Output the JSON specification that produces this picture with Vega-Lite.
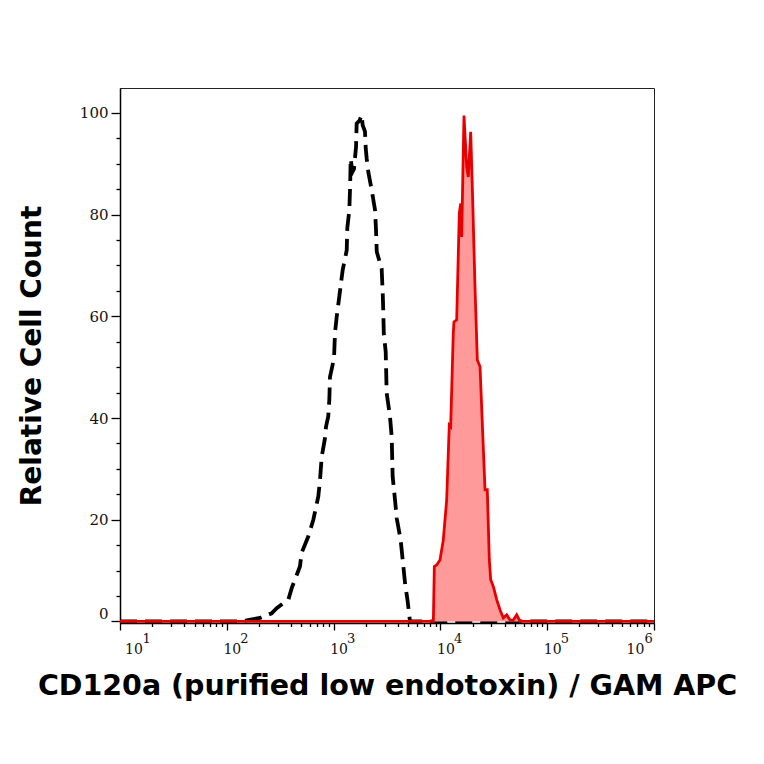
{
  "$schema": "https://vega.github.io/schema/vega-lite/v6.json",
  "width": 534,
  "height": 535,
  "autosize": "none",
  "padding": {"left": 120, "top": 88, "right": 110, "bottom": 141},
  "background": "white",
  "config": {
    "view": {"stroke": "#222222", "strokeWidth": 1},
    "axis": {
      "grid": false,
      "domainColor": "#000000",
      "domainWidth": 1.5,
      "tickColor": "#000000",
      "tickWidth": 1.3,
      "labelFont": "DejaVu Serif",
      "labelFontSize": 14,
      "labelColor": "#111111",
      "labelOverlap": false,
      "labelFlush": false,
      "titleFont": "DejaVu Sans",
      "titleFontWeight": "bold",
      "titleFontSize": 28,
      "titleColor": "#000000"
    }
  },
  "resolve": {"scale": {"x": "independent"}, "axis": {"x": "independent"}},
  "datasets": {
    "iso": [
      {"x": 10, "y": 0}, {"x": 133, "y": 0}, {"x": 153, "y": 0.2}, {"x": 205, "y": 0.7},
      {"x": 263, "y": 1.6}, {"x": 293, "y": 2.6}, {"x": 377, "y": 4.3}, {"x": 406, "y": 6.6},
      {"x": 484, "y": 10.8}, {"x": 502, "y": 13.5}, {"x": 579, "y": 16.7}, {"x": 646, "y": 20},
      {"x": 719, "y": 24.6}, {"x": 746, "y": 27.8}, {"x": 774, "y": 32.4}, {"x": 830, "y": 36},
      {"x": 849, "y": 38.3}, {"x": 891, "y": 40.3}, {"x": 912, "y": 43.6}, {"x": 925, "y": 48.1},
      {"x": 1009, "y": 51.7}, {"x": 1030, "y": 56.7}, {"x": 1069, "y": 59.9}, {"x": 1148, "y": 65},
      {"x": 1216, "y": 69.1}, {"x": 1327, "y": 73}, {"x": 1343, "y": 77.3}, {"x": 1403, "y": 80.9},
      {"x": 1430, "y": 86}, {"x": 1445, "y": 91}, {"x": 1500, "y": 88.4}, {"x": 1552, "y": 89},
      {"x": 1622, "y": 93.3}, {"x": 1644, "y": 97.9}, {"x": 1750, "y": 98.5}, {"x": 1832, "y": 99.6},
      {"x": 1871, "y": 97.6}, {"x": 1968, "y": 96.3}, {"x": 2000, "y": 93}, {"x": 2042, "y": 91},
      {"x": 2113, "y": 88.4}, {"x": 2275, "y": 84.8}, {"x": 2443, "y": 80.9}, {"x": 2495, "y": 77},
      {"x": 2535, "y": 72.7}, {"x": 2818, "y": 69.4}, {"x": 2884, "y": 64.5}, {"x": 2917, "y": 61.2},
      {"x": 2950, "y": 56.7}, {"x": 3076, "y": 53}, {"x": 3141, "y": 44.9}, {"x": 3373, "y": 40.3},
      {"x": 3499, "y": 36.3}, {"x": 3573, "y": 28.5}, {"x": 3758, "y": 23.9}, {"x": 3899, "y": 20.3},
      {"x": 4246, "y": 16}, {"x": 4436, "y": 12.1}, {"x": 4667, "y": 7.5}, {"x": 4943, "y": 3.9},
      {"x": 5188, "y": 0}, {"x": 1000000, "y": 0}
    ],
    "cd120a": [
      {"x": 10, "y": 0}, {"x": 8590, "y": 0}, {"x": 8775, "y": 10.8}, {"x": 9230, "y": 11.1},
      {"x": 9910, "y": 12.1}, {"x": 10640, "y": 16}, {"x": 11450, "y": 23.9}, {"x": 12110, "y": 38.6},
      {"x": 12480, "y": 38.3}, {"x": 13200, "y": 56.7}, {"x": 13400, "y": 58.9}, {"x": 14210, "y": 59.3},
      {"x": 15030, "y": 80.2}, {"x": 15490, "y": 82.2}, {"x": 15820, "y": 75.6}, {"x": 16630, "y": 99.5},
      {"x": 17620, "y": 89.4}, {"x": 18240, "y": 87.4}, {"x": 19210, "y": 96.3}, {"x": 20060, "y": 82.8},
      {"x": 21080, "y": 65.8}, {"x": 22170, "y": 51.4}, {"x": 23500, "y": 50.1}, {"x": 24900, "y": 37},
      {"x": 26170, "y": 25.9}, {"x": 27490, "y": 25.9}, {"x": 28710, "y": 12.1}, {"x": 29580, "y": 8.2},
      {"x": 31280, "y": 6.9}, {"x": 33650, "y": 4.3}, {"x": 36130, "y": 2.3}, {"x": 38810, "y": 0.7},
      {"x": 41780, "y": 1.3}, {"x": 44870, "y": 0.3}, {"x": 47860, "y": 0.2}, {"x": 51800, "y": 1.3},
      {"x": 55620, "y": 0}, {"x": 1000000, "y": 0}
    ]
  },
  "encoding": {
    "y": {
      "field": "y",
      "type": "quantitative",
      "scale": {"domain": [-0.3, 104.9], "nice": false, "zero": false},
      "axis": {
        "title": "Relative Cell Count",
        "titlePadding": 33,
        "labelFontSize": 15,
        "values": [0, 5, 10, 15, 20, 25, 30, 35, 40, 45, 50, 55, 60, 65, 70, 75, 80, 85, 90, 95, 100],
        "labelExpr": "datum.value % 20 === 0 ? datum.label : ''",
        "labelFlush": 3,
        "labelPadding": 3,
        "tickSize": {"condition": {"test": "datum.value % 20 === 0", "value": 9}, "value": 4}
      }
    }
  },
  "layer": [
    {
      "data": {"name": "iso"},
      "mark": {"type": "line", "color": "#000000", "strokeWidth": 3.8, "strokeDash": [17, 8]},
      "encoding": {
        "x": {
          "field": "x",
          "type": "quantitative",
          "scale": {"type": "log", "domain": [10, 1000000], "nice": false},
          "axis": {
            "orient": "bottom",
            "title": "CD120a (purified low endotoxin) / GAM APC",
            "titleFontSize": 28.5,
            "titlePadding": 15,
            "values": [10, 20, 30, 40, 50, 60, 70, 80, 90, 100, 200, 300, 400, 500, 600, 700, 800, 900, 1000, 2000, 3000, 4000, 5000, 6000, 7000, 8000, 9000, 10000, 20000, 30000, 40000, 50000, 60000, 70000, 80000, 90000, 100000, 200000, 300000, 400000, 500000, 600000, 700000, 800000, 900000, 1000000],
            "labelExpr": "abs(log(datum.value)/LN10 - round(log(datum.value)/LN10)) < 0.001 ? '10' : ''",
            "labelAlign": "center",
            "labelOffset": {"condition": [{"test": "datum.value < 11", "value": 13.5}, {"test": "datum.value > 990000", "value": -19}], "value": 5},
            "labelPadding": 12,
            "tickSize": {"condition": {"test": "abs(log(datum.value)/LN10 - round(log(datum.value)/LN10)) < 0.001", "value": 7}, "value": 3.5}
          }
        }
      }
    },
    {
      "data": {"name": "cd120a"},
      "mark": {"type": "area", "color": "#ff9a9a", "opacity": 1},
      "encoding": {
        "x": {
          "field": "x",
          "type": "quantitative",
          "scale": {"type": "log", "domain": [10, 1000000], "nice": false},
          "axis": {
            "orient": "bottom",
            "title": null,
            "domain": false,
            "ticks": false,
            "tickSize": 0,
            "values": [10, 100, 1000, 10000, 100000, 1000000],
            "labelExpr": "'' + round(log(datum.value)/LN10)",
            "labelFontSize": 13,
            "labelAlign": "left",
            "labelOffset": {"condition": [{"test": "datum.value < 11", "value": 22}, {"test": "datum.value > 990000", "value": -10}], "value": 13},
            "labelPadding": 9
          }
        }
      }
    },
    {
      "data": {"name": "cd120a"},
      "mark": {"type": "line", "color": "#e80000", "strokeWidth": 2.8},
      "encoding": {
        "x": {
          "field": "x",
          "type": "quantitative",
          "scale": {"type": "log", "domain": [10, 1000000], "nice": false},
          "axis": null
        }
      }
    }
  ]
}
